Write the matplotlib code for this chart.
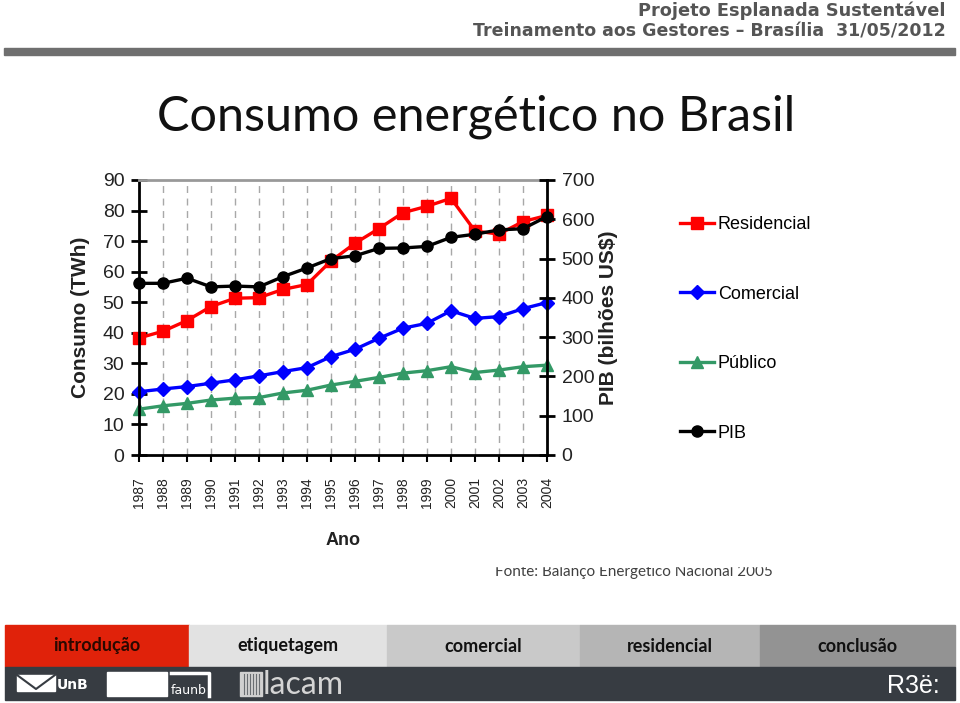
import matplotlib
matplotlib.use("Agg")
import matplotlib.pyplot as plt
from matplotlib.patches import Rectangle

# dados
anos = [1987, 1988, 1989, 1990, 1991, 1992, 1993, 1994, 1995,
        1996, 1997, 1998, 1999, 2000, 2001, 2002, 2003, 2004]
residencial = [38.3, 40.5, 44.0, 48.6, 51.3, 51.5, 54.2, 55.8, 63.5,
               69.3, 74.1, 79.3, 81.4, 84.0, 73.3, 72.3, 76.4, 78.4]
comercial = [20.7, 21.6, 22.4, 23.5, 24.6, 25.9, 27.3, 28.6, 32.2,
             34.6, 38.2, 41.5, 43.1, 47.2, 44.7, 45.3, 47.9, 49.9]
publico = [15.0, 16.1, 16.9, 18.0, 18.6, 18.8, 20.3, 21.2, 22.9,
           24.1, 25.4, 26.8, 27.6, 28.9, 27.0, 27.8, 28.9, 29.4]
pib = [437, 437, 450, 428, 430, 428, 454, 476, 500,
       507, 526, 527, 531, 554, 562, 573, 576, 607]

menu = ["introdução", "etiquetagem", "comercial", "residencial", "conclusão"]
menu_x = [5, 189, 387, 580, 760, 955]
menu_cores = ["#e0220a", "#e2e2e2", "#c9c9c9", "#b5b5b5", "#939393"]

W, H = 960, 703
fig = plt.figure(figsize=(W / 100, H / 100), dpi=100)
fig.patch.set_facecolor("white")

# fundo do slide em coordenadas de pixel
bg = fig.add_axes([0, 0, 1, 1])
bg.set_xlim(0, W)
bg.set_ylim(H, 0)
bg.axis("off")

bg.text(946, 11, "Projeto Esplanada Sustentável", ha="right", va="center",
        fontsize=12.8, fontweight="bold", color="#555555", family="DejaVu Sans")
bg.text(946, 32, "Treinamento aos Gestores – Brasília  31/05/2012", ha="right",
        va="center", fontsize=12.5, fontweight="bold", color="#555555",
        family="DejaVu Sans")
bg.add_patch(Rectangle((4, 48), 951, 7, color="#6f6f6f"))

bg.text(157, 117, "Consumo energético no Brasil", ha="left", va="center",
        fontsize=35, color="#111111", family="Lato")

bg.text(495, 576, "Fonte: Balanço Energético Nacional 2005", ha="left",
        va="baseline", fontsize=11, color="#404040", family="Lato")
bg.add_patch(Rectangle((480, 545), 320, 20.5, color="white", zorder=5))

# menu
for i, nome in enumerate(menu):
    x0, x1 = menu_x[i], menu_x[i + 1]
    bg.add_patch(Rectangle((x0, 625), x1 - x0, 42, color=menu_cores[i]))
    cor_txt = "#2a0800" if i == 0 else "#111111"
    bg.text((x0 + x1) / 2, 646, nome, ha="center", va="center",
            fontsize=13, fontweight="bold", color=cor_txt, family="Lato")

# barra de logos
bg.add_patch(Rectangle((5, 667), 950, 33, color="#373c42"))
bg.add_patch(Rectangle((17, 675), 38, 16, color="white"))
bg.plot([17, 36, 55], [675, 689, 675], color="#373c42", lw=1.5)
bg.text(57, 689, "UnB", ha="left", va="baseline", fontsize=10,
        fontweight="bold", color="white", family="DejaVu Sans")
bg.add_patch(Rectangle((107, 672), 60, 24, color="white"))
bg.plot([171, 209, 209], [672.5, 672.5, 696], color="white", lw=2.5)
bg.text(171, 694, "faunb", ha="left", va="baseline", fontsize=9,
        color="white", family="DejaVu Sans")
bg.add_patch(Rectangle((240, 672), 22, 24, color="#d0d0d0"))
for k in range(6):
    bg.plot([244 + k * 3, 244 + k * 3], [674, 694], color="#6a6e72", lw=0.8)
bg.text(263, 694, "lacam", ha="left", va="baseline", fontsize=23,
        color="#d4d4d4", family="Lato")
bg.text(887, 693, "R3ë:", ha="left", va="baseline", fontsize=18,
        color="white", family="Liberation Sans")

# grafico
ax = fig.add_axes([139 / W, 1 - 455 / H, 408 / W, 275 / H])
ax2 = ax.twinx()

ax.set_xlim(1987, 2004)
ax.set_ylim(0, 90)
ax2.set_ylim(0, 700)

for a in anos:
    ax.axvline(a, color="#a8a8a8", lw=1, ls=(0, (5, 4)), zorder=0)

lr, = ax.plot(anos, residencial, color="#ff0000", lw=2.4, marker="s", ms=8,
              clip_on=False, label="Residencial")
lc, = ax.plot(anos, comercial, color="#0000ff", lw=2.4, marker="D", ms=7,
              clip_on=False, label="Comercial")
lp, = ax.plot(anos, publico, color="#339966", lw=2.4, marker="^", ms=9,
              clip_on=False, label="Público")
lpib, = ax2.plot(anos, pib, color="black", lw=2.4, marker="o", ms=8,
                 clip_on=False, label="PIB")

for s in ["left", "bottom"]:
    ax.spines[s].set_linewidth(2)
    ax.spines[s].set_color("black")
ax.spines["top"].set_color("#999999")
ax.spines["top"].set_linewidth(2)
ax.spines["right"].set_visible(False)
for s in ["left", "bottom", "top"]:
    ax2.spines[s].set_visible(False)
ax2.spines["right"].set_linewidth(2)

ax.set_yticks(range(0, 91, 10))
ax2.set_yticks(range(0, 701, 100))
ax.set_xticks(anos)
ax.set_xticklabels([str(a) for a in anos], rotation=90, fontsize=10,
                   family="Liberation Sans", color="#222222")
ax.tick_params(axis="y", direction="inout", length=11, width=2, pad=5,
               labelsize=14, labelcolor="#222222")
ax2.tick_params(axis="y", direction="inout", length=11, width=2, pad=5,
                labelsize=14, labelcolor="#222222")
ax.tick_params(axis="x", direction="out", length=5, width=1.5, pad=11)
for lab in ax.get_yticklabels() + ax2.get_yticklabels():
    lab.set_family("Liberation Sans")

ax.set_ylabel("Consumo (TWh)", fontsize=15, fontweight="bold",
              family="Liberation Sans", color="#222222", labelpad=9)
ax2.set_ylabel("PIB (bilhões US$)", fontsize=15, fontweight="bold",
               family="Liberation Sans", color="#222222", labelpad=3)
ax.set_xlabel("Ano", fontsize=13, fontweight="bold",
              family="Liberation Sans", color="#222222", labelpad=17)

fig.legend(handles=[lr, lc, lp, lpib], loc="center left",
           bbox_to_anchor=(671 / W, 1 - 329 / H), frameon=False,
           prop={"family": "Liberation Sans", "size": 13},
           labelspacing=2.9, handlelength=1.9, handletextpad=0.2,
           borderpad=0)

fig.savefig("out.png", dpi=100)
